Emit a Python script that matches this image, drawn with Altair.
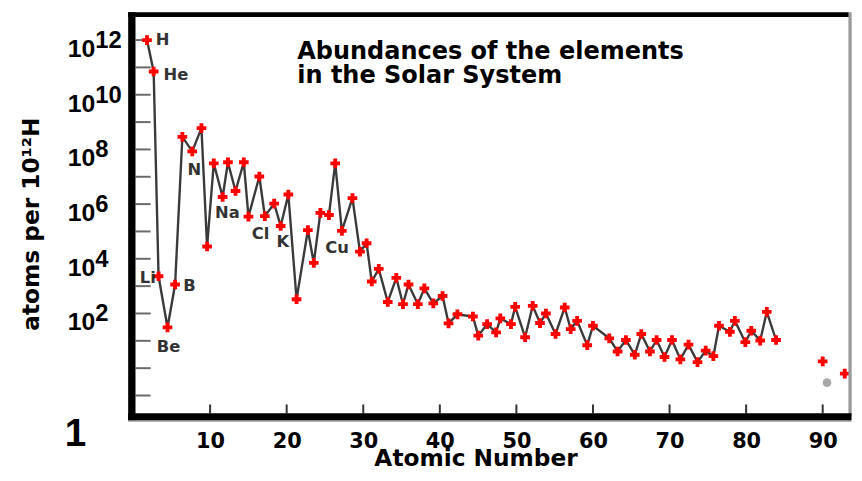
import altair as alt
import pandas as pd

# ---------------- data ----------------
elements = ["H", "He", "Li", "Be", "B", "C", "N", "O", "F", "Ne", "Na", "Mg", "Al", "Si", "P",
            "S", "Cl", "Ar", "K", "Ca", "Sc", "Ti", "V", "Cr", "Mn", "Fe", "Co", "Ni", "Cu", "Zn",
            "Ga", "Ge", "As", "Se", "Br", "Kr", "Rb", "Sr", "Y", "Zr", "Nb", "Mo", "Ru", "Rh", "Pd",
            "Ag", "Cd", "In", "Sn", "Sb", "Te", "I", "Xe", "Cs", "Ba", "La", "Ce", "Pr", "Nd", "Sm",
            "Eu", "Gd", "Tb", "Dy", "Ho", "Er", "Tm", "Yb", "Lu", "Hf", "Ta", "W", "Re", "Os", "Ir",
            "Pt", "Au", "Hg", "Tl", "Pb", "Bi"]
atomic_x = [1.76, 2.63, 3.27, 4.44, 5.43, 6.38, 7.67, 8.87, 9.61, 10.48, 11.64, 12.33, 13.32, 14.40, 15.01,
            16.43, 17.15, 18.37, 19.22, 20.22, 21.29, 22.77, 23.54, 24.40, 25.52, 26.34, 27.21, 28.59, 29.57, 30.44,
            31.11, 32.03, 33.20, 34.32, 35.19, 35.91, 37.13, 37.98, 39.15, 40.36, 41.14, 42.30, 44.32, 45.02, 46.18,
            47.35, 47.90, 49.29, 49.84, 51.14, 52.13, 53.08, 53.86, 55.11, 56.31, 57.09, 57.93, 59.25, 60.00, 62.13,
            63.21, 64.30, 65.46, 66.31, 67.44, 68.31, 69.34, 70.32, 71.41, 72.48, 73.65, 74.72, 75.72, 76.46, 77.88,
            78.53, 79.90, 80.67, 81.84, 82.70, 83.91]
log_abund = [12.00, 10.85, 3.36, 1.49, 3.06, 8.46, 7.93, 8.78, 4.45, 7.49, 6.26, 7.53, 6.48, 7.53, 5.54,
             7.01, 5.56, 6.02, 5.20, 6.35, 2.52, 5.05, 3.85, 5.68, 5.60, 7.49, 5.02, 6.22, 4.26, 4.57,
             3.17, 3.63, 2.42, 3.30, 2.34, 3.06, 2.34, 2.92, 2.37, 2.64, 1.64, 1.97, 1.89, 1.19, 1.61,
             1.31, 1.82, 1.61, 2.24, 1.13, 2.28, 1.65, 2.00, 1.25, 2.22, 1.43, 1.73, 0.84, 1.55, 1.09,
             0.61, 1.03, 0.49, 1.25, 0.61, 1.03, 0.41, 1.03, 0.32, 0.86, 0.22, 0.64, 0.44, 1.55, 1.33,
             1.73, 0.95, 1.37, 1.01, 2.06, 1.03]

extra_names = ["Th", "U"]
extra_x = [90.00, 92.88]
extra_e = [0.25, -0.20]

gray_x = [90.56]
gray_e = [-0.53]

label_text = ["H", "He", "Li", "Be", "B", "N", "Na", "Cl", "K", "Cu"]
label_x = [2.89, 3.92, 0.82, 3.05, 6.51, 7.05, 10.65, 15.44, 18.67, 25.04]
label_e = [12.01, 10.72, 3.28, 0.78, 3.00, 7.26, 5.67, 4.91, 4.60, 4.40]

x_ticks = [10, 20, 30, 40, 50, 60, 70, 80, 90]
y_ticks = [-1, 0, 1, 2, 3, 4, 5, 6, 7, 8, 9, 10, 11, 12]
y_label_exps = ["12", "10", "8", "6", "4", "2"]
y_label_pos = [12, 10, 8, 6, 4, 2]

title_lines = ["Abundances of the elements", "in the Solar System"]

# ---------------- tables ----------------
main_df = pd.DataFrame({"el": elements, "x": atomic_x, "e": log_abund})
red_df = pd.DataFrame({"el": elements + extra_names, "x": atomic_x + extra_x, "e": log_abund + extra_e})
gray_df = pd.DataFrame({"x": gray_x, "e": gray_e})
lab_df = pd.DataFrame({"t": label_text, "x": label_x, "e": label_e})
xt_df = pd.DataFrame({"x": x_ticks})
yt_df = pd.DataFrame({"e": y_ticks})
yl_df = pd.DataFrame({"e": y_label_pos, "lab": y_label_exps})
one = pd.DataFrame({"a": [0]})

W, H = 725, 406
FONT = "DejaVu Sans"

xs = alt.Scale(domain=[-0.22, 93.57], nice=False, zero=False)
ys = alt.Scale(domain=[-1.78, 12.93], nice=False, zero=False)

x_axis = alt.Axis(values=x_ticks, ticks=False, tickSize=0, domain=False, grid=False,
                  labelFont=FONT, labelFontSize=21, labelFontWeight="bold", labelColor="black",
                  labelPadding=14,
                  titleFont=FONT, titleFontSize=23.5, titleFontWeight="bold", titleColor="black",
                  titleX=347, titleY=49, titleAlign="center", titleBaseline="alphabetic")
y_axis = alt.Axis(labels=False, ticks=False, tickSize=0, domain=False, grid=False,
                  titleFont=FONT, titleFontSize=23.5, titleFontWeight="bold", titleColor="black",
                  titleAngle=270, titleX=-94, titleY=211, titleAlign="center",
                  titleBaseline="alphabetic")


def X():
    return alt.X("x:Q", scale=xs, axis=x_axis, title="Atomic Number")


def Y():
    return alt.Y("e:Q", scale=ys, axis=y_axis, title="atoms per 10¹²H")


plus_path = "M-1,-0.4H-0.4V-1H0.4V-0.4H1V0.4H0.4V1H-0.4V0.4H-1Z"

# inward y ticks
yticks = alt.Chart(yt_df).mark_rule(color="#6a6a6a", strokeWidth=2).encode(
    y=Y(), x=alt.value(3.7), x2=alt.value(19))
# inward x ticks
xticks = alt.Chart(xt_df).mark_rule(color="#333333", strokeWidth=2).encode(
    x=X(), y=alt.value(H - 3.5), y2=alt.value(H - 12.5))

line = alt.Chart(main_df).mark_line(color="#3a3a3a", strokeWidth=2.4).encode(
    x=X(), y=Y(), order=alt.Order("x:Q"))
red = alt.Chart(red_df).mark_point(shape=plus_path, filled=True, color="#ff0000",
                                   size=95, opacity=1).encode(x=X(), y=Y())
gray = alt.Chart(gray_df).mark_point(shape="circle", filled=True, color="#a8a8a8",
                                     size=75, opacity=1).encode(x=X(), y=Y())

labels = alt.Chart(lab_df).mark_text(align="left", baseline="middle", font=FONT,
                                     fontSize=16.5, fontWeight="bold", color="#333333").encode(
    x=X(), y=Y(), text="t:N")

ylab10 = alt.Chart(yl_df).mark_text(align="right", baseline="alphabetic", dy=17,
                                    font="Liberation Sans", fontSize=25, fontWeight="bold",
                                    color="black").encode(
    y=Y(), x=alt.value(-37), text=alt.value("10"))
ylabexp = alt.Chart(yl_df).mark_text(align="left", baseline="alphabetic", dy=8,
                                     font="Liberation Sans", fontSize=24, fontWeight="bold",
                                     color="black").encode(
    y=Y(), x=alt.value(-37), text="lab:N")
one_lab = alt.Chart(one).mark_text(align="center", baseline="alphabetic",
                                   font="Liberation Sans", fontSize=39, fontWeight="bold",
                                   color="black").encode(
    x=alt.value(-57), y=alt.value(435.5), text=alt.value("1"))

title = alt.Chart(one).mark_text(align="left", baseline="alphabetic", font=FONT,
                                 fontSize=24.2, fontWeight="bold", color="black",
                                 lineHeight=24.4).encode(
    x=alt.value(167), y=alt.value(44.8), text=alt.value(title_lines))

# frame
f_left = alt.Chart(one).mark_rule(color="black", strokeWidth=7.4).encode(
    x=alt.value(0), y=alt.value(-2.5), y2=alt.value(H + 3.5))
f_top = alt.Chart(one).mark_rule(color="black", strokeWidth=5).encode(
    y=alt.value(0), x=alt.value(-3.7), x2=alt.value(W - 1.5))
f_bottom = alt.Chart(one).mark_rule(color="black", strokeWidth=7).encode(
    y=alt.value(H), x=alt.value(-3.7), x2=alt.value(W + 1.5))
f_bottom2 = alt.Chart(one).mark_rule(color="#9a9a9a", strokeWidth=1.5).encode(
    y=alt.value(H + 4.2), x=alt.value(-3.7), x2=alt.value(W + 1.5))
f_right = alt.Chart(one).mark_rule(color="#9a9a9a", strokeWidth=3.3).encode(
    x=alt.value(W), y=alt.value(-2.5), y2=alt.value(H))

chart = alt.layer(
    yticks, xticks, line, red, gray, labels, ylab10, ylabexp, one_lab, title,
    f_right, f_left, f_top, f_bottom2, f_bottom
).properties(
    width=W, height=H,
    autosize=alt.AutoSizeParams(type="none"),
    padding={"left": 125, "top": 4.5, "right": 4, "bottom": 54.5},
    background="white",
).configure_view(stroke=None)

chart.save("out.html", embed_options={"renderer": "svg", "actions": False})
